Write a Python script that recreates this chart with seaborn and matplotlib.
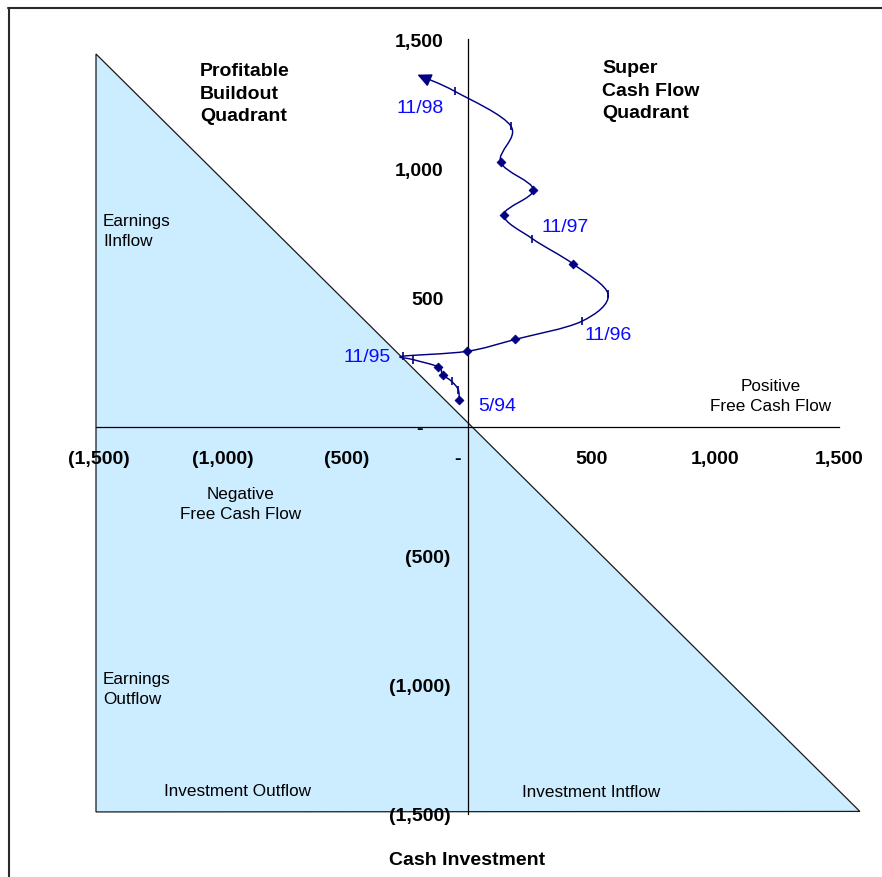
import numpy as np
import pandas as pd
import matplotlib
matplotlib.use("Agg")
import matplotlib.pyplot as plt
from matplotlib.path import Path
from matplotlib.patches import FancyArrowPatch, Polygon
from matplotlib.lines import Line2D
from matplotlib.transforms import ScaledTranslation
import seaborn as sns

# Free cash flow (x) against cash investment (y), $M, 5/94 through 11/98
flow_x = [-34, -38, -65, -101, -119, -220, -262, -3, 191, 460, 567, 426, 261, 146, 265, 133, 175, -51, -203]
flow_y = [104, 143, 175, 201, 231, 259, 272, 291, 337, 407, 511, 629, 727, 820, 917, 1024, 1162, 1297, 1362]
marker_kind = ["diamond", "tick", "tick", "diamond", "diamond", "tick", "tick", "diamond", "diamond",
               "tick", "tick", "diamond", "tick", "diamond", "diamond", "diamond", "tick", "tick", "end"]

# Dated points along the path
label_index = [0, 6, 9, 12, 17]
label_text = ["5/94", "11/95", "11/96", "11/97", "11/98"]

# Axis ticks (accounting-style labels)
tick_values = [-1500, -1000, -500, 0, 500, 1000, 1500]
tick_labels = ["(1,500)", "(1,000)", "(500)", "-", "500", "1,000", "1,500"]

# Shaded "below break-even" triangle
zone_x = [-1500, -1500, 1583]
zone_y = [1442, -1492, -1490]

NAVY = "#000080"
BLUE = "#0A0AFF"
W, H = 882, 878

sns.set_style("white")
plt.rcParams["font.family"] = ["Liberation Sans", "DejaVu Sans"]
plt.rcParams["text.color"] = "black"
plt.rcParams["axes.labelcolor"] = "black"
plt.rcParams["xtick.color"] = "black"
plt.rcParams["ytick.color"] = "black"

df = pd.DataFrame({"x": flow_x, "y": flow_y, "kind": marker_kind})

fig = plt.figure(figsize=(W / 100, H / 100), dpi=100)
fig.patch.set_facecolor("white")
ax = fig.add_axes([96 / W, 63 / H, 743.3 / W, 775 / H])
ax.set_facecolor("none")
ax.set_xlim(-1500, 1500)
ax.set_ylim(-1500, 1500)

# Shaded triangle with its diagonal
tri = Polygon(np.column_stack([zone_x, zone_y]), closed=True, facecolor="#CCECFF",
              edgecolor="#1a1a1a", linewidth=0.9, zorder=0.5, clip_on=False)
ax.add_patch(tri)

# Smoothed path through the points (cubic Bezier segments)
pts = df[["x", "y"]].to_numpy(dtype=float)
verts = [pts[0]]
codes = [Path.MOVETO]
n = len(pts)
for i in range(n - 1):
    p0 = pts[i - 1] if i > 0 else pts[i]
    p1 = pts[i]
    p2 = pts[i + 1]
    p3 = pts[i + 2] if i + 2 < n else pts[i + 1]
    verts += [p1 + (p2 - p0) / 6.0, p2 - (p3 - p1) / 6.0, p2]
    codes += [Path.CURVE4] * 3
curve = FancyArrowPatch(path=Path(np.array(verts), codes),
                        arrowstyle="-|>,head_length=0.42,head_width=0.2",
                        mutation_scale=20, color=NAVY, linewidth=1.05, zorder=4)
ax.add_patch(curve)

# Point markers
sns.scatterplot(data=df[df["kind"] == "diamond"], x="x", y="y", marker="D", s=20,
                color=NAVY, edgecolor=NAVY, linewidth=0.6, ax=ax, zorder=5, legend=False)
sns.scatterplot(data=df[df["kind"] == "tick"], x="x", y="y", marker="|", s=40,
                color=NAVY, edgecolor=None, linewidth=1.2, ax=ax, zorder=5, legend=False)

# Date labels
offsets = [(38, -6), (-36, 0), (27, -13), (33, 12), (-35, -16)]
for idx, txt, off in zip(label_index, label_text, offsets):
    ax.annotate(txt, (flow_x[idx], flow_y[idx]), xytext=off, textcoords="offset pixels",
                ha="center", va="center", color=BLUE, fontsize=14, zorder=6)

# Cross-shaped axes through the origin
for side in ["top", "right"]:
    ax.spines[side].set_visible(False)
for side in ["left", "bottom"]:
    ax.spines[side].set_position(("data", 0))
    ax.spines[side].set_color("black")
    ax.spines[side].set_linewidth(0.9)
    ax.spines[side].set_zorder(3)

ax.set_xticks(tick_values, tick_labels)
ax.set_yticks(tick_values, tick_labels)
ax.tick_params(axis="x", direction="out", length=3, width=0.8, color="#333333",
               pad=14, labelsize=14, labelcolor="black")
ax.tick_params(axis="y", direction="out", length=4.3, width=0.8, color="#555555",
               pad=7.9, labelsize=14, labelcolor="black")
for lab in ax.get_xticklabels() + ax.get_yticklabels():
    lab.set_fontweight("bold")

# Accounting-format padding on the tick labels
for val, lab in zip(tick_values, ax.get_xticklabels()):
    dx = -10.5 if val == 0 else (3 if val < 0 else 0)
    lab.set_transform(lab.get_transform() + ScaledTranslation(dx / 100, 0, fig.dpi_scale_trans))
for val, lab in zip(tick_values, ax.get_yticklabels()):
    dx = -28 if val == 0 else (-7 if val > 0 else 0)
    lab.set_transform(lab.get_transform() + ScaledTranslation(dx / 100, 0, fig.dpi_scale_trans))

ax.set_xlabel("Cash Investment", fontsize=14, fontweight="bold", color="black")
ax.xaxis.set_label_coords(0.499, -0.0475)
ax.set_ylabel("")


def ftext(px, py, s, **kw):
    fig.text(px / W, 1 - py / H, s, color="black", **kw)


ftext(200, 63, "Profitable\nBuildout\nQuadrant", fontsize=14, fontweight="bold",
      ha="left", va="top", linespacing=1.43)
ftext(602, 60, "Super\nCash Flow\nQuadrant", fontsize=14, fontweight="bold",
      ha="left", va="top", linespacing=1.43)
ftext(103, 214, "Earnings\nIInflow", fontsize=12.3, ha="left", va="top", linespacing=1.38)
ftext(103, 672, "Earnings\nOutflow", fontsize=12.3, ha="left", va="top", linespacing=1.38)
ftext(771, 379, "Positive\nFree Cash Flow", fontsize=12.3, ha="center", va="top",
      multialignment="center", linespacing=1.38)
ftext(241, 487, "Negative\nFree Cash Flow", fontsize=12.3, ha="center", va="top",
      multialignment="center", linespacing=1.38)
ftext(238, 792, "Investment Outflow", fontsize=12.3, ha="center", va="center")
ftext(591, 793, "Investment Intflow", fontsize=12.3, ha="center", va="center")

# Frame around the figure
fig.add_artist(Line2D([8 / W, 1], [1 - 8.5 / H, 1 - 8.5 / H], transform=fig.transFigure,
                      color="#2a2a2a", linewidth=1.5))
fig.add_artist(Line2D([9 / W, 9 / W], [0, 1 - 8.5 / H], transform=fig.transFigure,
                      color="#2a2a2a", linewidth=1.5))

fig.savefig("out.png", dpi=100)
